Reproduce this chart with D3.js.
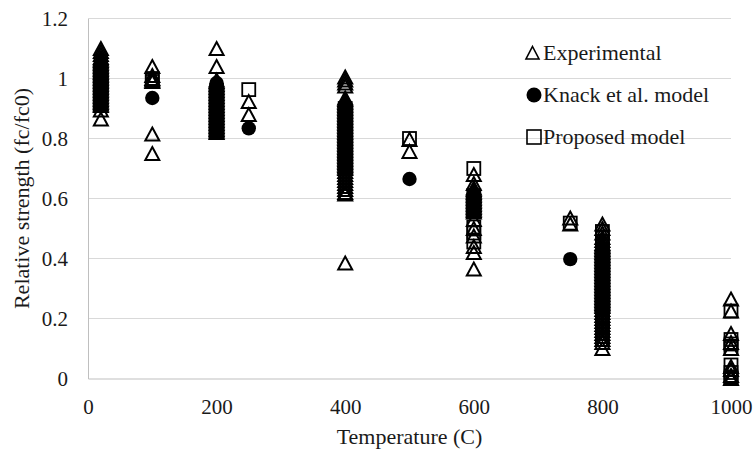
<!DOCTYPE html>
<html>
<head>
<meta charset="utf-8">
<script src="https://cdn.jsdelivr.net/npm/d3@7"></script>
<style>
  html, body { margin: 0; padding: 0; background: #fff; }
</style>
</head>
<body>
<svg id="chart" width="753" height="452"></svg>
<script>
// Relative compressive strength vs. temperature, grouped by test temperature (C)
const experimental = [
  [20, [1.10, 1.09, 1.08, 1.07, 1.065, 1.06, 1.055, 1.05, 1.045, 1.04, 1.035, 1.03, 1.025, 1.02, 1.015, 1.01, 1.005, 1.0, 0.995, 0.99, 0.985, 0.98, 0.975, 0.97, 0.965, 0.96, 0.955, 0.95, 0.945, 0.94, 0.935, 0.93, 0.925, 0.92, 0.915, 0.91, 0.895, 0.865]],
  [100, [1.04, 1.01, 1.0, 0.995, 0.99, 0.815, 0.75]],
  [200, [1.10, 1.04, 0.995, 0.99, 0.985, 0.98, 0.975, 0.97, 0.965, 0.96, 0.955, 0.95, 0.945, 0.94, 0.935, 0.93, 0.925, 0.92, 0.915, 0.91, 0.905, 0.90, 0.895, 0.89, 0.885, 0.88, 0.875, 0.87, 0.865, 0.86, 0.855, 0.85, 0.845, 0.84, 0.835, 0.83, 0.825, 0.82]],
  [250, [0.923, 0.88]],
  [400, [1.005, 0.995, 0.985, 0.975, 0.935, 0.93, 0.925, 0.92, 0.915, 0.91, 0.905, 0.90, 0.895, 0.89, 0.885, 0.88, 0.875, 0.87, 0.865, 0.86, 0.855, 0.85, 0.845, 0.84, 0.835, 0.83, 0.825, 0.82, 0.815, 0.81, 0.805, 0.80, 0.795, 0.79, 0.785, 0.78, 0.775, 0.77, 0.765, 0.76, 0.755, 0.75, 0.745, 0.74, 0.735, 0.73, 0.725, 0.72, 0.715, 0.71, 0.705, 0.70, 0.69, 0.68, 0.67, 0.66, 0.65, 0.64, 0.63, 0.62, 0.615, 0.385]],
  [500, [0.797, 0.757]],
  [600, [0.68, 0.65, 0.635, 0.63, 0.625, 0.62, 0.615, 0.61, 0.605, 0.60, 0.595, 0.59, 0.585, 0.58, 0.575, 0.57, 0.565, 0.56, 0.555, 0.53, 0.50, 0.475, 0.44, 0.42, 0.365]],
  [750, [0.535, 0.515]],
  [800, [0.515, 0.50, 0.485, 0.47, 0.46, 0.45, 0.445, 0.44, 0.435, 0.43, 0.425, 0.42, 0.415, 0.41, 0.405, 0.40, 0.395, 0.39, 0.385, 0.38, 0.375, 0.37, 0.365, 0.36, 0.355, 0.35, 0.345, 0.34, 0.335, 0.33, 0.325, 0.32, 0.315, 0.31, 0.305, 0.30, 0.295, 0.29, 0.285, 0.28, 0.275, 0.27, 0.265, 0.26, 0.255, 0.25, 0.245, 0.24, 0.23, 0.22, 0.21, 0.20, 0.19, 0.18, 0.17, 0.16, 0.15, 0.14, 0.13, 0.12, 0.10]],
  [1000, [0.265, 0.225, 0.15, 0.12, 0.10, 0.04, 0.03, 0.01, 0.0]]
];

const knackModel = [
  [20, [1.03, 1.01, 0.99, 0.97, 0.95]],
  [100, [0.935]],
  [200, [0.985, 0.95, 0.91, 0.87, 0.84]],
  [250, [0.834]],
  [400, [0.88, 0.82, 0.76]],
  [500, [0.665]],
  [600, [0.595]],
  [750, [0.398]],
  [800, [0.40, 0.37, 0.34, 0.31, 0.28, 0.25]]
];

const proposedModel = [
  [20, [1.0, 0.99, 0.97, 0.95]],
  [100, [1.0, 0.99]],
  [200, [0.96, 0.92, 0.88, 0.85, 0.83]],
  [250, [0.963]],
  [400, [0.90, 0.85, 0.80, 0.75, 0.72]],
  [500, [0.80]],
  [600, [0.70, 0.61, 0.585, 0.505, 0.485, 0.455]],
  [750, [0.518]],
  [800, [0.49, 0.47, 0.45, 0.43, 0.40, 0.37, 0.34, 0.31, 0.28, 0.25, 0.22, 0.19, 0.16, 0.13]],
  [1000, [0.225, 0.13, 0.115, 0.10, 0.045, 0.02, 0.005, 0.0]]
];

const xTicks = [0, 200, 400, 600, 800, 1000];
const yTicks = [0, 0.2, 0.4, 0.6, 0.8, 1, 1.2];
const legendLabels = ["Experimental", "Knack et al. model", "Proposed model"];

const FONT = "'Liberation Serif', 'Times New Roman', 'DejaVu Serif', serif";
const TEXT = "#1a1a1a";

const flatten = groups => groups.flatMap(([t, vals]) => vals.map(v => ({ t, v })));

const svg = d3.select("#chart").attr("font-family", FONT);
const x = d3.scaleLinear().domain([0, 1000]).range([88, 731]);
const y = d3.scaleLinear().domain([0, 1.2]).range([378.5, 18.5]);

// gridlines
svg.append("g")
  .selectAll("line")
  .data(yTicks.filter(d => d > 0))
  .join("line")
  .attr("x1", x(0)).attr("x2", x(1000))
  .attr("y1", d => y(d)).attr("y2", d => y(d))
  .attr("stroke", "#d9d9d9").attr("stroke-width", 1);

// axes
const xAxis = svg.append("g")
  .attr("transform", `translate(0,${y(0)})`)
  .call(d3.axisBottom(x).tickValues(xTicks).tickSize(0).tickPadding(21).tickFormat(d3.format("d")))
  .attr("font-family", FONT).attr("font-size", 21);
xAxis.select(".domain").attr("stroke", "#bfbfbf");
xAxis.selectAll("text").attr("fill", TEXT);

const yAxis = svg.append("g")
  .attr("transform", `translate(${x(0)},0)`)
  .call(d3.axisLeft(y).tickValues(yTicks).tickSize(0).tickPadding(20).tickFormat(d => String(+d.toFixed(1))))
  .attr("font-family", FONT).attr("font-size", 21);
yAxis.select(".domain").attr("stroke", "#bfbfbf");
yAxis.selectAll("text").attr("fill", TEXT);

// axis titles
svg.append("text")
  .attr("x", (x(0) + x(1000)) / 2).attr("y", 444)
  .attr("text-anchor", "middle").attr("font-size", 22).attr("fill", TEXT)
  .text("Temperature (C)");
svg.append("text")
  .attr("transform", `translate(29,${y(0.6)}) rotate(-90)`)
  .attr("text-anchor", "middle").attr("font-size", 22).attr("fill", TEXT)
  .text("Relative strength (fc/fc0)");

// marker shapes
const triPath = "M0,-6.5L7,6.5L-7,6.5Z";
const sqSize = 13;

const marks = svg.append("g");
marks.append("g").selectAll("path")
  .data(flatten(experimental))
  .join("path")
  .attr("d", triPath)
  .attr("transform", d => `translate(${x(d.t)},${y(d.v)})`)
  .attr("fill", "none").attr("stroke", "#000").attr("stroke-width", 2);

marks.append("g").selectAll("circle")
  .data(flatten(knackModel))
  .join("circle")
  .attr("cx", d => x(d.t)).attr("cy", d => y(d.v)).attr("r", 7.2)
  .attr("fill", "#000");

marks.append("g").selectAll("rect")
  .data(flatten(proposedModel))
  .join("rect")
  .attr("x", d => x(d.t) - sqSize / 2).attr("y", d => y(d.v) - sqSize / 2)
  .attr("width", sqSize).attr("height", sqSize)
  .attr("fill", "none").attr("stroke", "#000").attr("stroke-width", 1.8);

// legend
const legend = svg.append("g").attr("transform", "translate(534,0)");
const rows = [53, 95, 137];
legend.append("path").attr("d", "M0,-6.5L6.5,6L-6.5,6Z")
  .attr("transform", `translate(-1.5,${rows[0]})`)
  .attr("fill", "none").attr("stroke", "#000").attr("stroke-width", 1.6);
legend.append("circle").attr("cx", 0).attr("cy", rows[1]).attr("r", 7.5).attr("fill", "#000");
legend.append("rect").attr("x", -7).attr("y", rows[2] - 7).attr("width", 14).attr("height", 14)
  .attr("fill", "none").attr("stroke", "#000").attr("stroke-width", 1.6);
legend.selectAll("text.lbl")
  .data(legendLabels)
  .join("text")
  .attr("class", "lbl")
  .attr("x", 9).attr("y", (d, i) => rows[i] + 7)
  .attr("font-size", 22).attr("fill", TEXT)
  .text(d => d);
</script>
</body>
</html>
